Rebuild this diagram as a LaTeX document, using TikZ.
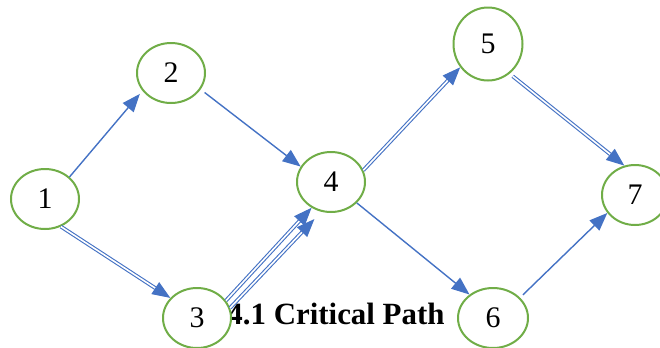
\documentclass[tikz,border=0pt]{standalone}
\usepackage{fontspec}
\setmainfont{Liberation Serif}
\usetikzlibrary{shapes.geometric,arrows.meta}
\definecolor{evgreen}{RGB}{112,173,71}
\definecolor{actblue}{RGB}{68,114,196}
\begin{document}
\begin{tikzpicture}[x=1bp, y=-1bp,
  every node/.style={font=\fontsize{30}{30}\selectfont},
  event/.style={draw=evgreen, line width=2bp, fill=white, ellipse, inner sep=0pt, minimum width=68bp, minimum height=60bp},
  act/.style={-{Triangle[length=18bp,width=14bp]}, color=actblue, line width=1.4bp},
  crit/.style={-{Triangle[length=18bp,width=14bp]}, color=actblue, line width=1.1bp, double=white, double distance=1.6bp}]
\useasboundingbox (0,0) rectangle (660,347);
\node[anchor=base east, font=\fontsize{31}{31}\selectfont\bfseries] (cap) at (448,324) {4.1 Critical Path};
\node[event] (e1) at (45,199) {1};
\node[event] (e2) at (171,73) {2};
\node[event] (e3) at (197,318) {3};
\node[event] (e4) at (331,182) {4};
\node[event, minimum width=69bp, minimum height=73bp] (e5) at (488,44) {5};
\node[event, minimum width=70bp] (e6) at (493,318) {6};
\node[event, minimum width=66bp] (e7) at (635,195) {7};

\draw[act, shorten >=4bp] (e1.42) -- (e2.212);
\draw[act, shorten <=5bp] (e2.-29) -- (e4.153);
\draw[crit] (e1.-60) -- (e3.143);
\draw[crit] (e3.31) -- (e4.233);
\draw[crit, shorten >=10bp] (e3.17) -- (e4.252);
\draw[crit] (e4.20) -- (e5.220);
\draw[act] (e4.-39) -- (e6.135);
\draw[crit, shorten <=4bp] (e5.-54) -- (e7.110);
\draw[act, shorten <=4bp] (e6.37) -- (e7.213);
\end{tikzpicture}
\end{document}
